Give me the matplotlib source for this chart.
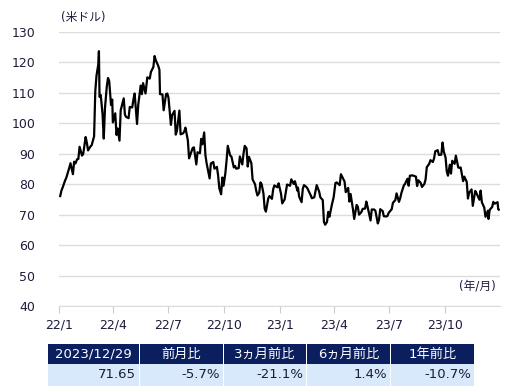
import matplotlib
matplotlib.use('Agg')
import matplotlib.pyplot as plt
import pandas as pd
from matplotlib.patches import Rectangle

plt.rcParams['font.family'] = ['DejaVu Sans', 'Noto Sans CJK JP']

# WTI crude, USD per barrel
dates = [
    '2022-01-03', '2022-01-05', '2022-01-07', '2022-01-11', '2022-01-13', '2022-01-18', '2022-01-20', '2022-01-24', '2022-01-26', '2022-01-28', '2022-01-31',
    '2022-02-02', '2022-02-04', '2022-02-08', '2022-02-10', '2022-02-14', '2022-02-16', '2022-02-18', '2022-02-22', '2022-02-24', '2022-02-28',
    '2022-03-02', '2022-03-04', '2022-03-07', '2022-03-08', '2022-03-09', '2022-03-11', '2022-03-14', '2022-03-16', '2022-03-18', '2022-03-21', '2022-03-23', '2022-03-25', '2022-03-28', '2022-03-30', '2022-03-31',
    '2022-04-04', '2022-04-06', '2022-04-08', '2022-04-11', '2022-04-13', '2022-04-18', '2022-04-20', '2022-04-22', '2022-04-26', '2022-04-28',
    '2022-05-02', '2022-05-04', '2022-05-06', '2022-05-10', '2022-05-12', '2022-05-16', '2022-05-18', '2022-05-20', '2022-05-24', '2022-05-27', '2022-05-31',
    '2022-06-02', '2022-06-06', '2022-06-08', '2022-06-10', '2022-06-14', '2022-06-16', '2022-06-17', '2022-06-21', '2022-06-23', '2022-06-27', '2022-06-29',
    '2022-07-01', '2022-07-05', '2022-07-07', '2022-07-11', '2022-07-13', '2022-07-15', '2022-07-19', '2022-07-21', '2022-07-25', '2022-07-27', '2022-07-29',
    '2022-08-02', '2022-08-04', '2022-08-08', '2022-08-10', '2022-08-12', '2022-08-16', '2022-08-18', '2022-08-22', '2022-08-24', '2022-08-26', '2022-08-29', '2022-08-31',
    '2022-09-02', '2022-09-07', '2022-09-09', '2022-09-13', '2022-09-15', '2022-09-19', '2022-09-21', '2022-09-23', '2022-09-26', '2022-09-28', '2022-09-30',
    '2022-10-03', '2022-10-05', '2022-10-07', '2022-10-11', '2022-10-13', '2022-10-17', '2022-10-19', '2022-10-21', '2022-10-25', '2022-10-27', '2022-10-31',
    '2022-11-02', '2022-11-04', '2022-11-07', '2022-11-09', '2022-11-11', '2022-11-15', '2022-11-17', '2022-11-21', '2022-11-23', '2022-11-25', '2022-11-28', '2022-11-30',
    '2022-12-02', '2022-12-05', '2022-12-07', '2022-12-09', '2022-12-13', '2022-12-15', '2022-12-19', '2022-12-21', '2022-12-23', '2022-12-28', '2022-12-30',
    '2023-01-03', '2023-01-05', '2023-01-09', '2023-01-11', '2023-01-13', '2023-01-18', '2023-01-20', '2023-01-24', '2023-01-26', '2023-01-30', '2023-01-31',
    '2023-02-02', '2023-02-06', '2023-02-08', '2023-02-10', '2023-02-14', '2023-02-16', '2023-02-21', '2023-02-23', '2023-02-27',
    '2023-03-01', '2023-03-03', '2023-03-07', '2023-03-09', '2023-03-13', '2023-03-15', '2023-03-17', '2023-03-20', '2023-03-22', '2023-03-24', '2023-03-28', '2023-03-31',
    '2023-04-03', '2023-04-05', '2023-04-10', '2023-04-12', '2023-04-14', '2023-04-18', '2023-04-20', '2023-04-24', '2023-04-26', '2023-04-28',
    '2023-05-02', '2023-05-04', '2023-05-08', '2023-05-10', '2023-05-12', '2023-05-16', '2023-05-18', '2023-05-22', '2023-05-24', '2023-05-26', '2023-05-31',
    '2023-06-02', '2023-06-06', '2023-06-08', '2023-06-12', '2023-06-14', '2023-06-16', '2023-06-20', '2023-06-22', '2023-06-26', '2023-06-28', '2023-06-30',
    '2023-07-05', '2023-07-07', '2023-07-11', '2023-07-13', '2023-07-17', '2023-07-19', '2023-07-21', '2023-07-25', '2023-07-27', '2023-07-31',
    '2023-08-02', '2023-08-04', '2023-08-08', '2023-08-10', '2023-08-14', '2023-08-16', '2023-08-18', '2023-08-22', '2023-08-24', '2023-08-28', '2023-08-30',
    '2023-09-01', '2023-09-05', '2023-09-07', '2023-09-11', '2023-09-13', '2023-09-15', '2023-09-19', '2023-09-21', '2023-09-25', '2023-09-27', '2023-09-29',
    '2023-10-02', '2023-10-04', '2023-10-06', '2023-10-09', '2023-10-11', '2023-10-13', '2023-10-17', '2023-10-19', '2023-10-23', '2023-10-25', '2023-10-27', '2023-10-31',
    '2023-11-02', '2023-11-06', '2023-11-08', '2023-11-10', '2023-11-14', '2023-11-16', '2023-11-20', '2023-11-22', '2023-11-27', '2023-11-29',
    '2023-12-01', '2023-12-05', '2023-12-07', '2023-12-11', '2023-12-12', '2023-12-14', '2023-12-18', '2023-12-20', '2023-12-22', '2023-12-27', '2023-12-28', '2023-12-29',
]
prices = [
    76.1, 77.9, 78.9, 81.2, 82.1, 85.4, 86.9, 83.3, 87.4, 86.8, 88.2,
    88.3, 92.3, 89.4, 89.9, 95.5, 93.7, 91.1, 92.4, 92.8, 95.7,
    110.6, 115.7, 119.4, 123.7, 108.7, 109.3, 103.0, 95.0, 105.0, 112.1, 114.9, 113.9, 106.0, 107.8, 100.3,
    103.3, 96.2, 98.3, 94.3, 104.3, 108.2, 102.8, 102.1, 101.7, 105.4,
    105.2, 107.8, 109.8, 99.8, 106.1, 112.4, 109.6, 113.2, 109.8, 115.1, 114.7,
    116.9, 118.5, 122.1, 120.7, 118.9, 117.6, 109.6, 109.5, 104.3, 109.6, 109.8,
    108.4, 99.5, 102.7, 104.1, 96.3, 97.6, 104.2, 96.4, 96.7, 97.3, 98.6,
    94.4, 88.5, 90.8, 91.9, 92.1, 86.5, 90.5, 90.2, 94.9, 93.1, 97.0, 89.6,
    86.9, 81.9, 86.8, 87.3, 85.1, 85.7, 82.9, 78.7, 76.7, 82.2, 79.5,
    83.6, 87.8, 92.6, 89.4, 89.1, 85.5, 86.0, 85.1, 85.3, 89.1, 86.5,
    90.0, 92.6, 91.8, 85.8, 89.0, 86.9, 81.6, 80.0, 77.9, 76.3, 77.2, 80.6,
    80.0, 76.9, 72.0, 71.0, 75.4, 76.1, 75.2, 78.3, 79.6, 79.0, 80.3,
    76.9, 73.7, 75.0, 77.4, 79.9, 79.5, 81.6, 80.1, 81.0, 77.9, 78.9,
    75.9, 74.1, 78.5, 79.7, 79.1, 78.5, 76.4, 75.4, 75.7,
    77.7, 79.7, 77.6, 75.7, 74.8, 67.6, 66.7, 67.6, 70.9, 69.3, 73.2, 75.7,
    80.4, 80.6, 79.7, 83.3, 82.5, 80.9, 77.4, 78.8, 74.3, 76.8,
    71.7, 68.6, 73.2, 72.6, 70.0, 70.9, 71.9, 72.0, 74.3, 72.7, 68.1,
    71.7, 71.7, 71.3, 67.1, 68.3, 71.8, 71.2, 69.5, 69.4, 69.6, 70.6,
    71.8, 73.9, 74.8, 77.0, 74.2, 75.4, 77.1, 79.6, 80.1, 81.8,
    79.5, 82.8, 82.9, 82.8, 82.5, 79.4, 81.3, 80.4, 79.1, 80.1, 81.6,
    85.6, 86.7, 87.9, 87.3, 88.5, 90.8, 91.2, 89.6, 89.7, 93.7, 90.8,
    88.8, 84.2, 82.8, 86.4, 83.5, 87.7, 86.7, 89.4, 85.5, 85.4, 85.5, 81.0,
    82.5, 80.8, 75.3, 77.2, 78.3, 72.9, 77.8, 77.1, 74.9, 77.9,
    74.1, 72.3, 69.3, 71.3, 68.6, 71.6, 72.5, 74.2, 73.6, 74.1, 71.8, 71.65,
]

tick_months = ['2022-01-01', '2022-04-01', '2022-07-01', '2022-10-01',
               '2023-01-01', '2023-04-01', '2023-07-01', '2023-10-01']
tick_labels = ['22/1', '22/4', '22/7', '22/10', '23/1', '23/4', '23/7', '23/10']

table_header = ['2023/12/29', '前月比', '3ヵ月前比', '6ヵ月前比', '1年前比']
table_values = ['71.65', '-5.7%', '-21.1%', '1.4%', '-10.7%']

text_color = '#1c1c3c'
W, H = 529, 386

fig = plt.figure(figsize=(W / 100, H / 100), dpi=100)
ax = fig.add_axes([59 / W, 1 - 306 / H, 441 / W, 274 / H])

x = pd.to_datetime(dates)
ax.plot(x, prices, color='black', lw=1.6)

ax.set_ylim(40, 130)
ax.set_yticks(range(40, 131, 10))
ax.set_xlim(pd.Timestamp('2022-01-01'), pd.Timestamp('2023-12-31'))
ax.set_xticks(pd.to_datetime(tick_months))
ax.set_xticklabels(tick_labels)
ax.grid(axis='y', color='#dcdcdc', lw=1)
ax.set_axisbelow(True)
for s in ['top', 'right', 'left']:
    ax.spines[s].set_visible(False)
ax.spines['bottom'].set_color('#dcdcdc')
ax.tick_params(axis='y', length=0, pad=17, labelsize=9, labelcolor=text_color)
ax.tick_params(axis='x', length=5, color='#cccccc', pad=4, labelsize=9, labelcolor=text_color)

fig.text(61 / W, 1 - 17 / H, '(米ドル)', fontsize=8.5, color=text_color, va='center', ha='left')
fig.text(496 / W, 1 - 286 / H, '(年/月)', fontsize=8.5, color=text_color, va='center', ha='right')

# summary table under the chart
tax = fig.add_axes([0, 0, 1, 1])
tax.set_xlim(0, W)
tax.set_ylim(H, 0)
tax.axis('off')
col_edges = [48, 140, 224, 307, 391, 475]
for i, (hd, val) in enumerate(zip(table_header, table_values)):
    x0, x1 = col_edges[i], col_edges[i + 1] - 1
    tax.add_patch(Rectangle((x0, 344), x1 - x0, 19.5, color='#0b1f5e', lw=0))
    tax.add_patch(Rectangle((x0, 364), x1 - x0, 22, color='#d7e9fb', lw=0))
    tax.text((x0 + x1) / 2, 354, hd, color='white', fontsize=9.5, ha='center', va='center')
    tax.text(x1 - 3, 375, val, color=text_color, fontsize=9.5, ha='right', va='center')

fig.savefig('out.png', dpi=100)
